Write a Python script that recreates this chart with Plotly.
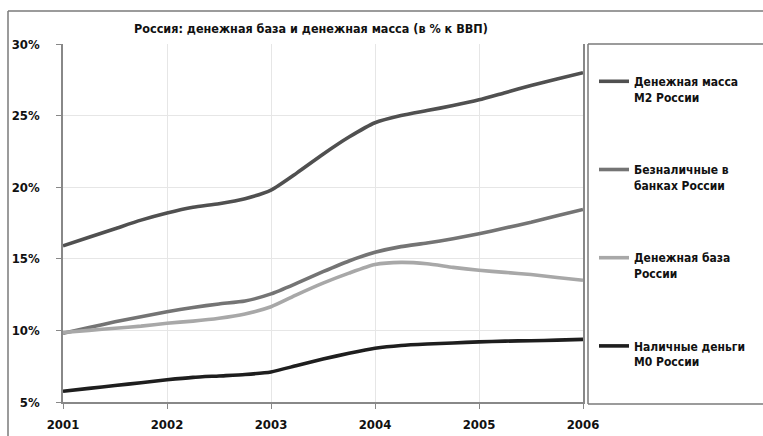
import plotly.graph_objects as go

# Quarterly observations, 2001–2006, % of GDP
periods = [2001.00, 2001.25, 2001.50, 2001.75, 2002.00, 2002.25, 2002.50, 2002.75,
           2003.00, 2003.25, 2003.50, 2003.75, 2004.00, 2004.25, 2004.50, 2004.75,
           2005.00, 2005.25, 2005.50, 2005.75, 2006.00]

m2_money_supply = [15.9, 16.5, 17.1, 17.7, 18.2, 18.6, 18.85, 19.2,
                   19.8, 21.0, 22.3, 23.5, 24.5, 25.0, 25.35, 25.7,
                   26.1, 26.6, 27.1, 27.55, 28.0]
bank_deposits = [9.8, 10.2, 10.6, 10.95, 11.3, 11.6, 11.85, 12.05,
                 12.55, 13.3, 14.1, 14.85, 15.45, 15.85, 16.1, 16.4,
                 16.75, 17.15, 17.55, 18.0, 18.45]
monetary_base = [9.85, 10.0, 10.15, 10.3, 10.5, 10.65, 10.85, 11.15,
                 11.65, 12.5, 13.3, 14.0, 14.6, 14.75, 14.65, 14.4,
                 14.2, 14.05, 13.9, 13.7, 13.5]
m0_cash = [5.75, 5.95, 6.15, 6.35, 6.55, 6.72, 6.82, 6.92,
           7.1, 7.55, 8.0, 8.4, 8.75, 8.95, 9.05, 9.12,
           9.2, 9.25, 9.28, 9.32, 9.37]

series_names = ["Денежная масса<br>М2 России", "Безналичные в<br>банках России",
                "Денежная база<br>России", "Наличные деньги<br>М0 России"]
series_values = [m2_money_supply, bank_deposits, monetary_base, m0_cash]
series_colors = ["#505050", "#747474", "#a8a8a8", "#1e1e1e"]

year_ticks = [2001, 2002, 2003, 2004, 2005, 2006]
pct_ticks = [5, 10, 15, 20, 25, 30]
pct_labels = ["5%", "10%", "15%", "20%", "25%", "30%"]

title_text = "Россия: денежная база и денежная масса (в % к ВВП)"
FONT = "DejaVu Sans Condensed, Liberation Sans Narrow, Roboto, sans-serif"

fig = go.Figure()
for i, (name, vals, col) in enumerate(zip(series_names, series_values, series_colors)):
    fig.add_trace(go.Scatter(
        x=periods, y=vals, name=name, mode="lines",
        line=dict(color=col, width=3.6, shape="spline", smoothing=0.6),
        legendgroup=f"g{i}",
    ))

W, H = 763, 436
L, R, T, B = 63, 180, 44, 34
pw, ph = W - L - R, H - T - B


def px_x(p):
    return (p - L) / pw


def px_y(p):
    return (H - B - p) / ph


frame_col = "#7a7a7a"
shapes = [
    # outer frame (top and left edges)
    dict(type="line", xref="paper", yref="paper", x0=px_x(8), x1=px_x(W),
         y0=px_y(11), y1=px_y(11), line=dict(color=frame_col, width=1.5)),
    dict(type="line", xref="paper", yref="paper", x0=px_x(8), x1=px_x(8),
         y0=px_y(11), y1=px_y(H), line=dict(color=frame_col, width=1.5)),
    # legend panel
    dict(type="line", xref="paper", yref="paper", x0=px_x(588), x1=px_x(W),
         y0=px_y(44), y1=px_y(44), line=dict(color=frame_col, width=1.5)),
    dict(type="line", xref="paper", yref="paper", x0=px_x(588), x1=px_x(588),
         y0=px_y(44), y1=px_y(404), line=dict(color=frame_col, width=1.5)),
    dict(type="line", xref="paper", yref="paper", x0=px_x(588), x1=px_x(W),
         y0=px_y(404), y1=px_y(404), line=dict(color=frame_col, width=1.5)),
]

fig.update_layout(
    width=W, height=H,
    margin=dict(l=L, r=R, t=T, b=B, autoexpand=False),
    paper_bgcolor="white", plot_bgcolor="white",
    font=dict(family=FONT, size=13, color="#111111"),
    shapes=shapes,
    showlegend=True,
    legend=dict(
        x=px_x(594), y=px_y(67), xanchor="left", yanchor="top",
        bgcolor="rgba(0,0,0,0)", borderwidth=0,
        font=dict(family=FONT, size=12, color="#111111", weight="bold"),
        tracegroupgap=54, valign="top", itemwidth=30,
    ),
    annotations=[dict(
        text=f"<b>{title_text}</b>", xref="paper", yref="paper",
        x=px_x(311), y=px_y(28), xanchor="center", yanchor="middle",
        showarrow=False, font=dict(family=FONT, size=12.5, color="#111111"),
    )],
)

fig.update_xaxes(
    range=[2001, 2006], tickvals=year_ticks, ticktext=[str(y) for y in year_ticks],
    showgrid=True, gridcolor="#e6e6e6", gridwidth=1,
    showline=True, linecolor="#888888", linewidth=1.5,
    ticks="outside", ticklen=5, tickcolor="#888888",
    tickfont=dict(family=FONT, size=13, color="#111111", weight="bold"),
    ticklabelstandoff=5, zeroline=False,
)
fig.update_yaxes(
    range=[5, 30], tickvals=pct_ticks, ticktext=pct_labels,
    showgrid=True, gridcolor="#e6e6e6", gridwidth=1,
    showline=True, linecolor="#888888", linewidth=1.5, mirror=True,
    ticks="outside", ticklen=5, tickcolor="#888888",
    tickfont=dict(family=FONT, size=13, color="#111111", weight="bold"),
    ticklabelstandoff=14, zeroline=False,
)

# keep the page itself from scrolling so the chart fills the window
page_css = ("document.documentElement.style.overflow='hidden';"
            "document.body.style.overflow='hidden';"
            "document.body.style.margin='0';")

fig.write_html("out.html", config={"displayModeBar": False}, post_script=page_css)
